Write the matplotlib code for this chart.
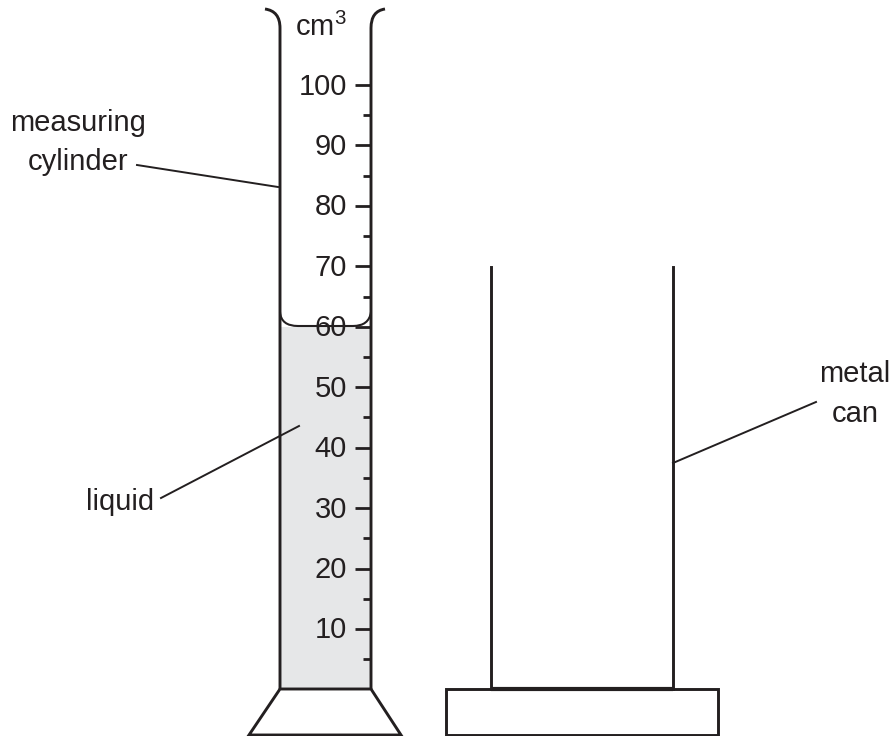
import matplotlib
matplotlib.use('Agg')
import matplotlib.pyplot as plt
from matplotlib.patches import Polygon, Rectangle, PathPatch
from matplotlib.path import Path

plt.rcParams['font.family'] = ['Liberation Sans', 'DejaVu Sans']
plt.rcParams['mathtext.fontset'] = 'custom'
plt.rcParams['mathtext.rm'] = 'Liberation Sans'

major_ticks = [100, 90, 80, 70, 60, 50, 40, 30, 20, 10]
minor_ticks = [95, 85, 75, 65, 55, 45, 35, 25, 15, 5]
liquid_level = 60

INK = '#231f20'
FILL = '#e6e7e8'
FS = 21


def vol_y(v):
    # scale of the cylinder in picture pixels
    return 629 - (v - 10) * 6.044


fig = plt.figure(figsize=(8.95, 7.36), dpi=100)
ax = fig.add_axes([0, 0, 1, 1])
ax.set_xlim(0, 895)
ax.set_ylim(736, 0)
ax.axis('off')

# liquid
level = vol_y(liquid_level)
ax.add_patch(Rectangle((280, level), 91, 689 - level, fc=FILL, ec='none', zorder=1))

# cylinder walls
left = Path([(265, 9), (280, 11), (280, 28), (280, 689)],
            [Path.MOVETO, Path.CURVE3, Path.CURVE3, Path.LINETO])
right = Path([(385, 9), (371, 11), (371, 28), (371, 689)],
             [Path.MOVETO, Path.CURVE3, Path.CURVE3, Path.LINETO])
for p in (left, right):
    ax.add_patch(PathPatch(p, fc='none', ec=INK, lw=2.1, zorder=3))

# meniscus
men = Path([(280, 312), (281, 326), (298, 326), (353, 326), (369, 326), (371, 312)],
           [Path.MOVETO, Path.CURVE3, Path.CURVE3, Path.LINETO, Path.CURVE3, Path.CURVE3])
ax.add_patch(PathPatch(men, fc='none', ec=INK, lw=1.5, zorder=3))

# base of the cylinder
ax.add_patch(Polygon([(280, 689), (371, 689), (401, 735), (249, 735)], closed=True,
                     fc='white', ec=INK, lw=2.1, zorder=3))

# scale
for v in major_ticks:
    y = vol_y(v)
    ax.plot([355, 371], [y, y], color=INK, lw=2.0, solid_capstyle='butt', zorder=3)
    ax.text(347, y + 1.5, str(v), ha='right', va='center', fontsize=FS, color=INK, zorder=4)
for v in minor_ticks:
    y = vol_y(v)
    ax.plot([363, 371], [y, y], color=INK, lw=2.0, solid_capstyle='butt', zorder=3)

ax.text(321, 27.5, r'$\mathrm{cm}^{3}$', ha='center', va='center', fontsize=FS, color=INK)

# metal can
ax.add_patch(Rectangle((446, 689), 272, 46, fc='white', ec=INK, lw=2.1, zorder=3))
ax.plot([491, 491], [267, 689], color=INK, lw=2.1, zorder=3)
ax.plot([673, 673], [267, 689], color=INK, lw=2.1, zorder=3)
ax.plot([491, 673], [689, 689], color=INK, lw=3.0, solid_capstyle='butt', zorder=4)

# labels and leader lines
ax.text(78, 123, 'measuring', ha='center', va='center', fontsize=FS, color=INK)
ax.text(78, 162, 'cylinder', ha='center', va='center', fontsize=FS, color=INK)
ax.plot([137, 278], [165, 187], color=INK, lw=1.4)
ax.text(120, 502, 'liquid', ha='center', va='center', fontsize=FS, color=INK)
ax.plot([161, 299], [498, 426], color=INK, lw=1.4)
ax.text(855, 374, 'metal', ha='center', va='center', fontsize=FS, color=INK)
ax.text(855, 414, 'can', ha='center', va='center', fontsize=FS, color=INK)
ax.plot([673, 816], [463, 402], color=INK, lw=1.4)

fig.savefig('out.png', dpi=100)
